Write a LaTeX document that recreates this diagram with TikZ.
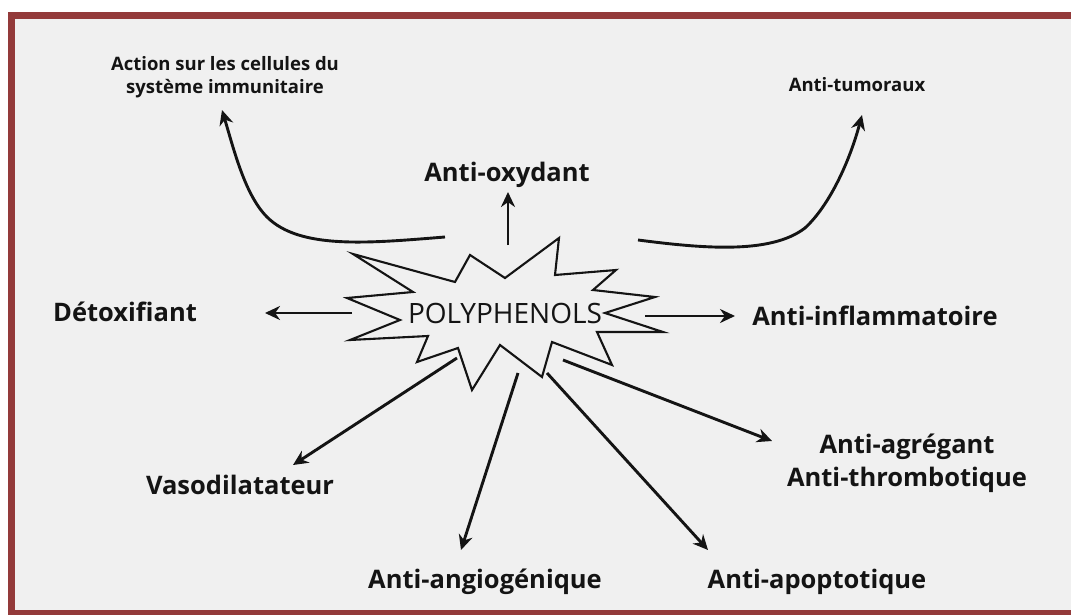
\documentclass[tikz,border=0pt]{standalone}
\usepackage{fontspec}
\setmainfont{Open Sans}
\usetikzlibrary{arrows.meta}
\definecolor{framered}{RGB}{147,58,58}
\definecolor{bggray}{RGB}{240,240,240}
\definecolor{ink}{RGB}{20,20,20}
\tikzset{
  biglabel/.style={font=\fontsize{25.5}{33}\selectfont\bfseries, inner sep=0pt, align=center, text=ink},
  smalllabel/.style={font=\fontsize{18.5}{23}\selectfont\bfseries, inner sep=0pt, align=center, text=ink},
  arr/.style={draw=ink, line width=2.9pt, -{Stealth[length=15pt,width=14pt]}},
  starline/.style={draw=ink, line width=2.1pt, line join=miter, fill=bggray}
}
\begin{document}
\begin{tikzpicture}[x=1pt,y=-1pt]
\useasboundingbox (0,0) rectangle (1071,615);
\fill[white] (0,0) rectangle (1071,615);
\fill[bggray] (11,15) rectangle (1080,615);
\draw[framered, line width=7pt] (1090,15.5) -- (11.5,15.5) -- (11.5,613.5) -- (1090,613.5);

% starburst
\draw[starline] (353,254) -- (455,282) -- (470,255) -- (505,278) -- (559,238) -- (555,275)
  -- (616,270) -- (593,290) -- (655,297) -- (605,313) -- (663,332) -- (597,332)
  -- (612,365) -- (552,342) -- (542,377) -- (500,345) -- (472,390) -- (458,348)
  -- (417,362) -- (428,336) -- (350,340) -- (400,320) -- (347,298) -- (413,292) -- cycle;
\node[font=\fontsize{28}{30}\selectfont, inner sep=0pt, text=ink] (poly) at (505,313) {POLYPHENOLS};

% labels
\node[smalllabel] (immun) at (225,77) {Action sur les cellules du\\système immunitaire};
\node[smalllabel] (tumor) at (857,85) {Anti-tumoraux};
\node[biglabel] (oxy) at (507,175) {Anti-oxydant};
\node[biglabel] (detox) at (125,312) {Détoxifiant};
\node[biglabel] (inflam) at (875,316) {Anti-inflammatoire};
\node[biglabel] (agreg) at (907,463) {Anti-agrégant\\Anti-thrombotique};
\node[biglabel] (vaso) at (240,485) {Vasodilatateur};
\node[biglabel] (angio) at (485,582) {Anti-angiogénique};
\node[biglabel] (apop) at (817,582) {Anti-apoptotique};

% connector end points
\coordinate (sOxy) at (508,245);   \coordinate (tOxy) at (508,192);
\coordinate (sDet) at (352,313);   \coordinate (tDet) at (265,313);
\coordinate (sInf) at (645,316);   \coordinate (tInf) at (735,316);
\coordinate (sVas) at (457,358);   \coordinate (tVas) at (293,465);
\coordinate (sAng) at (518,373);   \coordinate (tAng) at (461,550);
\coordinate (sApo) at (547,373);   \coordinate (tApo) at (708,550);
\coordinate (sAgr) at (563,360);   \coordinate (tAgr) at (772,441);
\coordinate (sImm) at (445,237);   \coordinate (tImm) at (222,110);
\coordinate (sTum) at (638,240);   \coordinate (tTum) at (862,115);

\draw[arr] (sOxy) -- (tOxy);
\draw[arr] (sDet) -- (tDet);
\draw[arr] (sInf) -- (tInf);
\draw[arr] (sVas) -- (tVas);
\draw[arr] (sAng) -- (tAng);
\draw[arr] (sApo) -- (tApo);
\draw[arr] (sAgr) -- (tAgr);
\draw[arr] (sImm) .. controls (370,243) and (300,250) .. (267,217)
  .. controls (245,195) and (234,150) .. (tImm);
\draw[arr] (sTum) .. controls (700,248) and (770,255) .. (805,228)
  .. controls (830,205) and (850,160) .. (tTum);
\end{tikzpicture}
\end{document}
